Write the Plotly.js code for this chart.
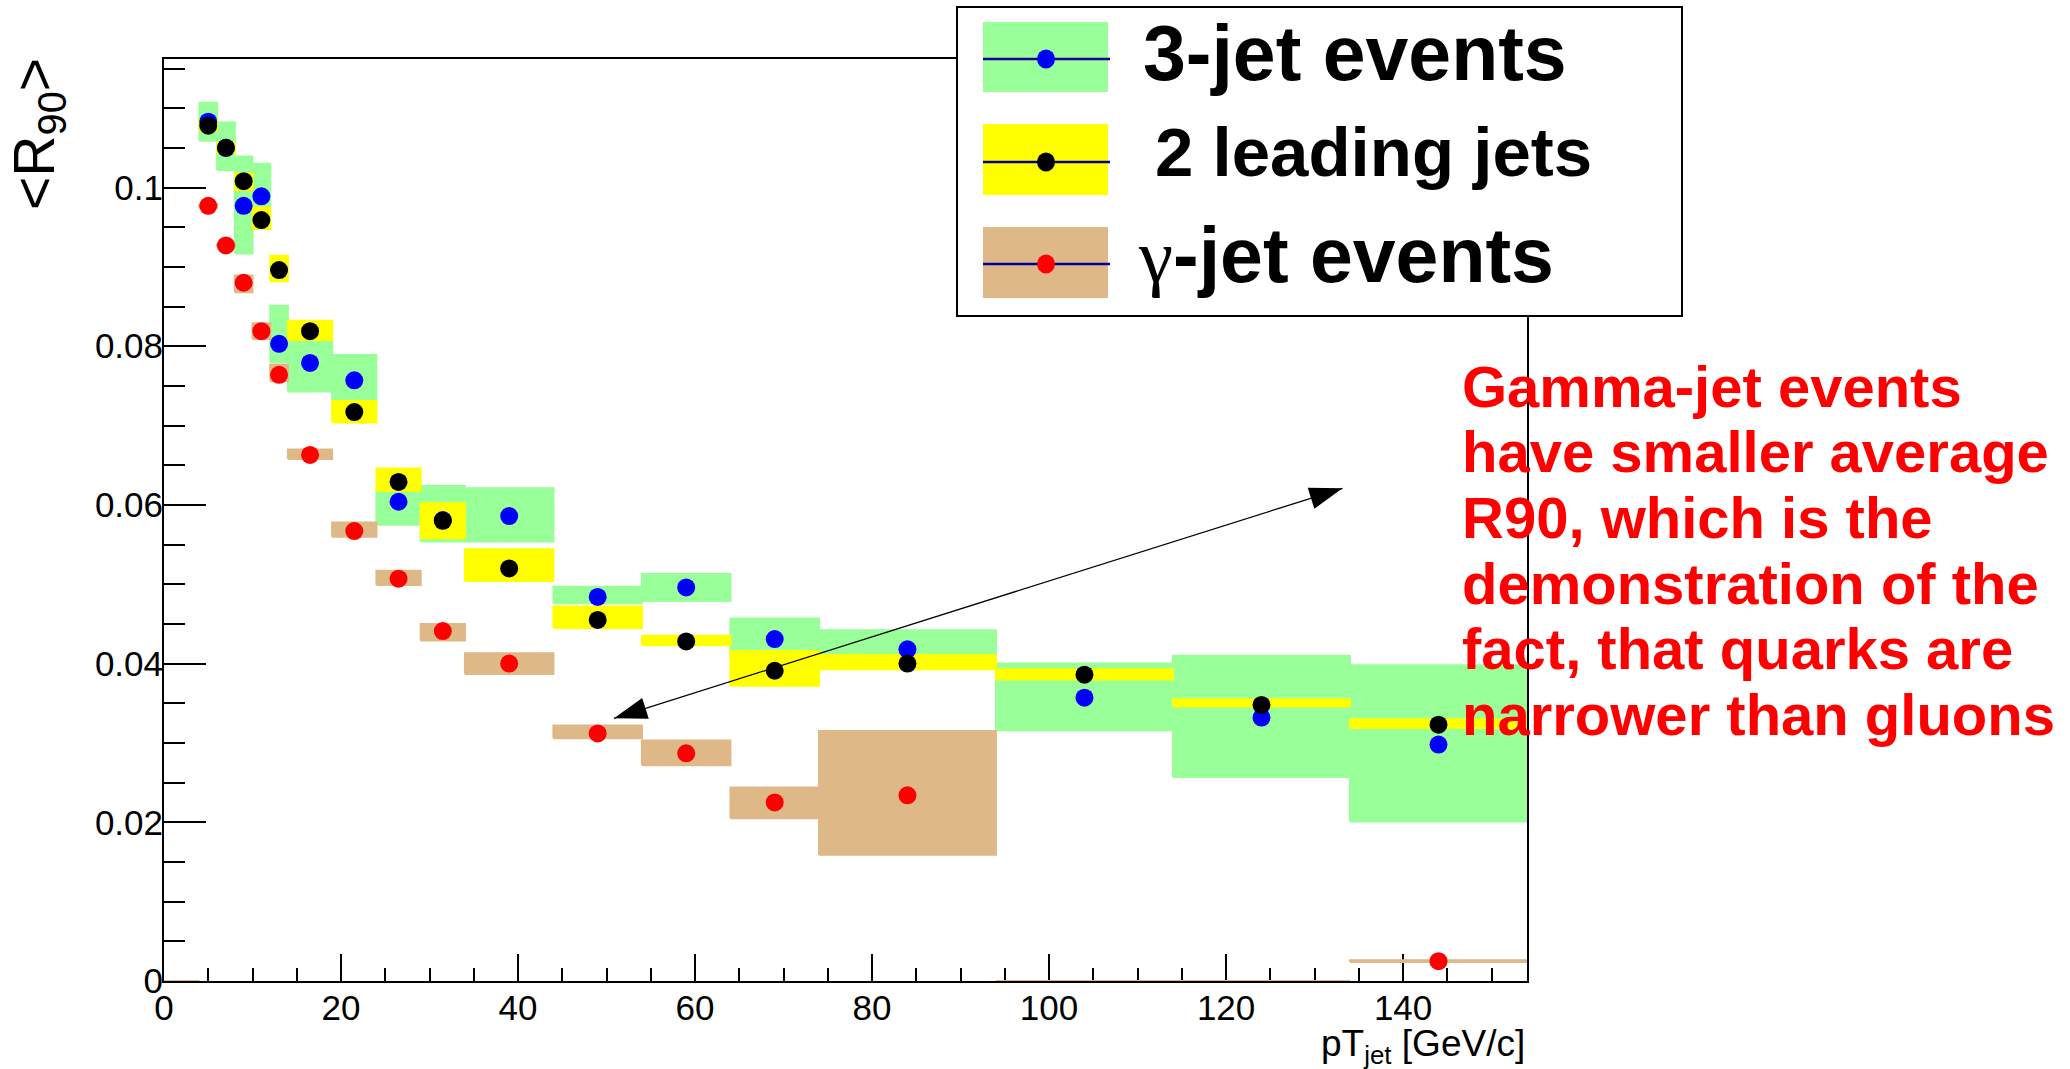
<!DOCTYPE html>
<html>
<head>
<meta charset="utf-8">
<script src="https://cdn.plot.ly/plotly-3.0.1.min.js"></script>
<style>
  html, body { margin: 0; padding: 0; background: #ffffff; }
  #chart { width: 2070px; height: 1069px; }
</style>
</head>
<body>
<div id="chart"></div>
<script>
// pT_jet bin edges [GeV/c]
const binEdges = [0, 4, 6, 8, 10, 12, 14, 19, 24, 29, 34, 44, 54, 64, 74, 94, 114, 134, 154];

// <R90> for 3-jet events, with systematic band limits
const threeJetMean = [null, 0.1083, 0.1050, 0.0977, 0.0989, 0.0803, 0.0779, 0.0757, 0.0604, 0.0581, 0.0586, 0.0484, 0.0496, 0.0431, 0.0418, 0.0357, 0.0332, 0.0298];
const threeJetLow  = [null, 0.1059, 0.1022, 0.0917, 0.0948, 0.0780, 0.0743, 0.0731, 0.0575, 0.0554, 0.0554, 0.0476, 0.0479, 0.0406, 0.0396, 0.0316, 0.0257, 0.0201];
const threeJetHigh = [null, 0.1107, 0.1082, 0.1039, 0.1030, 0.0851, 0.0808, 0.0789, 0.0618, 0.0624, 0.0621, 0.0497, 0.0513, 0.0457, 0.0442, 0.0400, 0.0410, 0.0398];

// <R90> for the 2 leading jets
const leadingMean = [null, 0.1078, 0.1050, 0.1008, 0.0959, 0.0896, 0.0819, 0.0717, 0.0629, 0.0580, 0.0520, 0.0455, 0.0428, 0.0391, 0.0400, 0.0386, 0.0348, 0.0323];
const leadingLow  = [null, 0.1072, 0.1043, 0.0997, 0.0948, 0.0882, 0.0808, 0.0704, 0.0618, 0.0558, 0.0504, 0.0445, 0.0423, 0.0372, 0.0393, 0.0380, 0.0346, 0.0319];
const leadingHigh = [null, 0.1086, 0.1056, 0.1018, 0.0975, 0.0914, 0.0832, 0.0731, 0.0646, 0.0602, 0.0544, 0.0472, 0.0435, 0.0416, 0.0411, 0.0393, 0.0355, 0.0330];

// <R90> for gamma-jet events (empty bins have no point)
const gammaMean = [null, 0.0977, 0.0927, 0.0880, 0.0819, 0.0764, 0.0663, 0.0567, 0.0507, 0.0441, 0.0400, 0.0312, 0.0287, 0.0225, 0.0234, null, null, 0.0025];
const gammaLow  = [0, 0.0975, 0.0925, 0.0868, 0.0809, 0.0756, 0.0658, 0.0560, 0.0499, 0.0429, 0.0387, 0.0306, 0.0272, 0.0205, 0.0159, 0, 0, 0.0024];
const gammaHigh = [0, 0.0979, 0.0929, 0.0889, 0.0829, 0.0777, 0.0670, 0.0578, 0.0517, 0.0450, 0.0413, 0.0322, 0.0303, 0.0244, 0.0315, 0, 0, 0.0026];

const seriesNames = ['3-jet events', '2 leading jets', '-jet events'];
const xTickValues = [0, 20, 40, 60, 80, 100, 120, 140];

const noteLines = [
  'Gamma-jet events',
  'have smaller average',
  'R90, which is the',
  'demonstration of the',
  'fact, that quarks are',
  'narrower than gluons'
];

// colours
const GREEN = '#99ff99', YELLOW = '#ffff00', TAN = '#deb887';
const BLUE = '#0000ff', BLACK = '#000000', RED = '#ff0000', NAVY = '#000099';

// plot-area geometry in pixels, and helpers to convert pixels to paper units
const PLOT = { l: 164, t: 59, w: 1363, h: 922 };
const px = x => (x - PLOT.l) / PLOT.w;
const py = y => (PLOT.t + PLOT.h - y) / PLOT.h;

const binCenters = binEdges.slice(0, -1).map((e, i) => (e + binEdges[i + 1]) / 2);

// one closed rectangle per bin, separated by gaps
function bandTrace(low, high, color) {
  const xs = [], ys = [];
  for (let i = 0; i < low.length; i++) {
    if (low[i] === null) continue;
    const x0 = binEdges[i], x1 = binEdges[i + 1];
    xs.push(x0, x1, x1, x0, x0, null);
    ys.push(low[i], low[i], high[i], high[i], low[i], null);
  }
  return {
    type: 'scatter', mode: 'lines', x: xs, y: ys,
    fill: 'toself', fillcolor: color,
    line: { color: color, width: 2 },
    hoverinfo: 'skip'
  };
}

function pointTrace(mean, color, name) {
  return {
    type: 'scatter', mode: 'markers', name: name,
    x: binCenters, y: mean,
    marker: { color: color, size: 18, symbol: 'circle' },
    cliponaxis: false
  };
}

const traces = [
  bandTrace(threeJetLow, threeJetHigh, GREEN),
  bandTrace(leadingLow, leadingHigh, YELLOW),
  bandTrace(gammaLow, gammaHigh, TAN),
  pointTrace(threeJetMean, BLUE, seriesNames[0]),
  pointTrace(leadingMean, BLACK, seriesNames[1]),
  pointTrace(gammaMean, RED, 'gamma' + seriesNames[2])
];

// ---- legend box, drawn with shapes and annotations ----
const shapes = [];
const annotations = [];

shapes.push({
  type: 'rect', xref: 'paper', yref: 'paper', layer: 'above',
  x0: px(957), x1: px(1682), y0: py(316), y1: py(7),
  fillcolor: '#ffffff', line: { color: '#000000', width: 2 }
});

const legendRows = [
  { fill: GREEN, dot: BLUE, top: 22, bottom: 92, lineY: 59, text: seriesNames[0], size: 77, textX: 1141, textY: 53 },
  { fill: YELLOW, dot: BLACK, top: 124, bottom: 195, lineY: 162, text: seriesNames[1], size: 69, textX: 1153, textY: 153 },
  { fill: TAN, dot: RED, top: 227, bottom: 298, lineY: 264, text: '<span style="font-family:\'Liberation Serif\';font-weight:normal">γ</span>' + seriesNames[2], size: 77, textX: 1136, textY: 256 }
];

legendRows.forEach(r => {
  shapes.push({
    type: 'rect', xref: 'paper', yref: 'paper', layer: 'above',
    x0: px(983), x1: px(1108), y0: py(r.bottom), y1: py(r.top),
    fillcolor: r.fill, line: { width: 0 }
  });
  shapes.push({
    type: 'line', xref: 'paper', yref: 'paper', layer: 'above',
    x0: px(983), x1: px(1110), y0: py(r.lineY), y1: py(r.lineY),
    line: { color: NAVY, width: 2.5 }
  });
  shapes.push({
    type: 'circle', xref: 'paper', yref: 'paper', layer: 'above',
    x0: px(1046 - 9), x1: px(1046 + 9), y0: py(r.lineY + 9.5), y1: py(r.lineY - 9.5),
    fillcolor: r.dot, line: { width: 0 }
  });
  annotations.push({
    xref: 'paper', yref: 'paper', x: px(r.textX), y: py(r.textY),
    xanchor: 'left', yanchor: 'middle', showarrow: false,
    text: r.text,
    font: { family: 'Liberation Sans', size: r.size, weight: 'bold', color: '#000000' }
  });
});

// ---- double-headed arrow between the gamma-jet and 3-jet points ----
const arrowA = [614, 718.3];
const arrowB = [1342.5, 488.3];
shapes.push({
  type: 'line', xref: 'paper', yref: 'paper', layer: 'above',
  x0: px(arrowA[0]), y0: py(arrowA[1]), x1: px(arrowB[0]), y1: py(arrowB[1]),
  line: { color: '#000000', width: 1.3 }
});
function headPath(tip, from, len, wid) {
  const dx = tip[0] - from[0], dy = tip[1] - from[1];
  const L = Math.hypot(dx, dy);
  const ux = dx / L, uy = dy / L;
  const bx = tip[0] - ux * len, by = tip[1] - uy * len;
  const nx = -uy * wid / 2, ny = ux * wid / 2;
  return 'M' + px(tip[0]) + ',' + py(tip[1]) +
         ' L' + px(bx + nx) + ',' + py(by + ny) +
         ' L' + px(bx - nx) + ',' + py(by - ny) + ' Z';
}
[[arrowB, arrowA], [arrowA, arrowB]].forEach(([tip, from]) => {
  shapes.push({
    type: 'path', xref: 'paper', yref: 'paper', layer: 'above',
    path: headPath(tip, from, 33, 22),
    fillcolor: '#000000', line: { width: 0 }
  });
});

// ---- red explanatory note ----
noteLines.forEach((line, i) => {
  annotations.push({
    xref: 'paper', yref: 'paper', x: px(1460), y: py(386 + i * 65.7),
    xanchor: 'left', yanchor: 'middle', showarrow: false,
    text: line,
    font: { family: 'Liberation Sans', size: 58, weight: 'bold', color: RED }
  });
});

// ---- axis titles (placed at the axis ends) ----
annotations.push({
  xref: 'paper', yref: 'paper', x: px(38), y: py(56),
  xanchor: 'center', yanchor: 'top', showarrow: false, textangle: -90,
  text: '&lt;R<sub>90</sub>&gt;',
  font: { family: 'Liberation Sans', size: 57, color: '#000000' }
});
annotations.push({
  xref: 'paper', yref: 'paper', x: 1, y: py(1046),
  xanchor: 'right', yanchor: 'middle', showarrow: false,
  text: 'pT<sub>jet</sub> [GeV/c]',
  font: { family: 'Liberation Sans', size: 37, color: '#000000' }
});

const axisCommon = {
  showgrid: false, zeroline: false,
  showline: true, mirror: true, linecolor: '#000000', linewidth: 2,
  ticks: 'inside', tickwidth: 2, tickcolor: '#000000',
  tickfont: { family: 'Liberation Sans', size: 35, color: '#000000' }
};

const layout = {
  width: 2070, height: 1069,
  margin: { l: PLOT.l, r: 2070 - PLOT.l - PLOT.w, t: PLOT.t, b: 1069 - PLOT.t - PLOT.h, pad: 0 },
  paper_bgcolor: '#ffffff', plot_bgcolor: '#ffffff',
  showlegend: false,
  font: { family: 'Liberation Sans', color: '#000000' },
  xaxis: Object.assign({}, axisCommon, {
    range: [0, 154], tickmode: 'array', tickvals: xTickValues,
    ticklen: 27, layer: 'below traces', ticklabelstandoff: -5,
    minor: { dtick: 5, tick0: 0, ticks: 'inside', ticklen: 13, tickwidth: 2, tickcolor: '#000000', showgrid: false }
  }),
  yaxis: Object.assign({}, axisCommon, {
    range: [0, 0.1162], dtick: 0.02, tick0: 0, ticklen: 42, ticklabelstandoff: -8,
    minor: { dtick: 0.005, tick0: 0, ticks: 'inside', ticklen: 21, tickwidth: 2, tickcolor: '#000000', showgrid: false }
  }),
  shapes: shapes,
  annotations: annotations
};

Plotly.newPlot('chart', traces, layout, { displayModeBar: false, staticPlot: true });
</script>
</body>
</html>
